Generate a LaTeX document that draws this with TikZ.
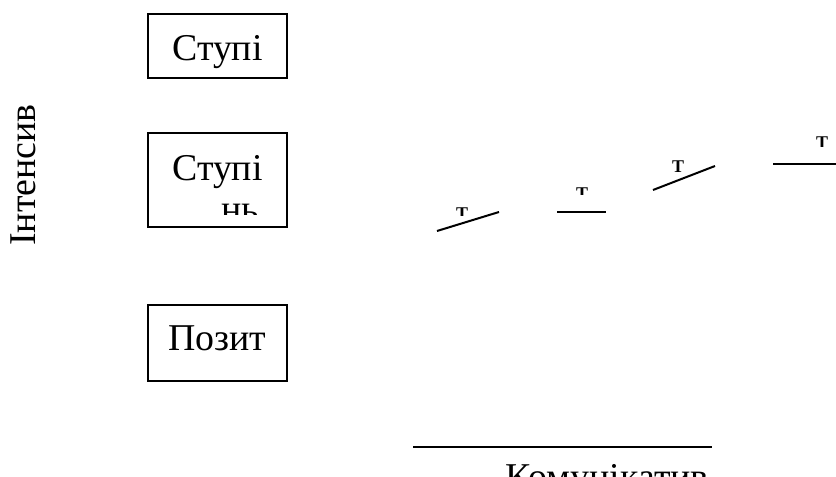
\documentclass[tikz,border=0pt]{standalone}
\usepackage{fontspec}
\newfontfamily\fa{Liberation Serif}
\begin{document}
\begin{tikzpicture}[x=1bp,y=-1bp,
  box/.style={draw,line width=1.5bp,inner sep=0,outer sep=0},
  big/.style={font=\fa\fontsize{38}{44}\selectfont,inner sep=0,anchor=base},
  seg/.style={line width=2bp},
  tick/.style={font=\fa\bfseries\fontsize{18}{18}\selectfont,inner sep=0,anchor=north}]
\useasboundingbox (0,0) rectangle (836,477);
% boxes
\node[box,minimum width=139bp,minimum height=64bp] (b1) at (217.5,46) {};
\node[big] (t1) at (217.5,61) {Ступі};
\node[box,minimum width=139bp,minimum height=94bp] (b2) at (217.5,180) {};
\node[big] (t2) at (217.5,181) {Ступі};
\begin{scope}
  \clip (150,190) rectangle (285,215);
  \node[big] (t2b) at (240,222) {нь};
\end{scope}
\node[box,minimum width=139bp,minimum height=76bp] (b3) at (217.5,343) {};
\node[big] (t3) at (217.5,350) {Позит};
% vertical label
\node[big,rotate=90] (v) at (35,175) {Інтенсив};
% segments
\coordinate (s1a) at (437,231); \coordinate (s1b) at (499,212);
\coordinate (s2a) at (557,212); \coordinate (s2b) at (606,212);
\coordinate (s3a) at (653,190); \coordinate (s3b) at (715,166);
\coordinate (s4a) at (773,164); \coordinate (s4b) at (836,164);
\draw[seg] (s1a) -- (s1b);
\draw[seg] (s2a) -- (s2b);
\draw[seg] (s3a) -- (s3b);
\draw[seg] (s4a) -- (s4b);
% ticks
\begin{scope}
  \clip (450,200) rectangle (475,216);
  \node[tick] (k1) at (462,208) {Т};
\end{scope}
\begin{scope}
  \clip (570,180) rectangle (595,195);
  \node[tick] (k2) at (582,188) {Т};
\end{scope}
\begin{scope}
  \clip (665,150) rectangle (692,174);
  \node[tick] (k3) at (678,161) {Т};
\end{scope}
\begin{scope}
  \clip (810,130) rectangle (836,147);
  \node[tick] (k4) at (822,137) {Т};
\end{scope}
% bottom axis
\coordinate (bla) at (413,447); \coordinate (blb) at (712,447);
\draw[seg] (bla) -- (blb);
\begin{scope}
  \clip (400,455) rectangle (836,477);
  \node[big] (bt) at (607,489) {Комунікатив};
\end{scope}
\end{tikzpicture}
\end{document}
